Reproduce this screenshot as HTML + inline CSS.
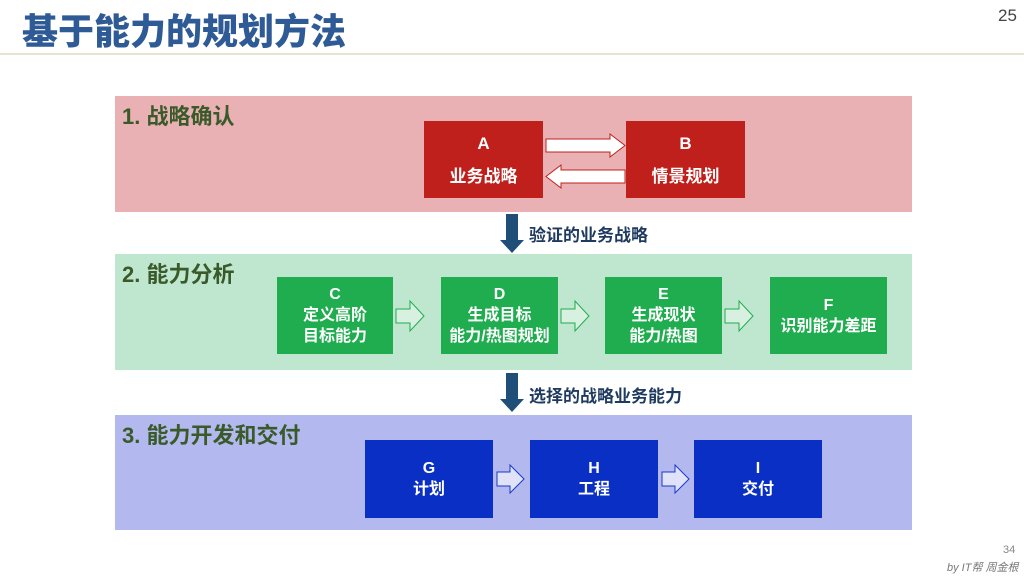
<!DOCTYPE html>
<html><head><meta charset="utf-8"><style>
*{margin:0;padding:0;box-sizing:border-box}
body{width:1024px;height:577px;background:#fff;position:relative;overflow:hidden;font-family:"Liberation Sans","Noto Sans CJK SC",sans-serif}
.a{position:absolute}
.band{position:absolute;left:115px;width:797px}
.bt{position:absolute;font-weight:bold;font-size:22px;color:#3a5a2a;white-space:nowrap}
.box{position:absolute;color:#fff;font-weight:bold;font-size:16px;line-height:21px;display:flex;flex-direction:column;justify-content:center;align-items:center;text-align:center;white-space:nowrap}
.lbl{position:absolute;font-weight:bold;font-size:17px;color:#1f3a5f;white-space:nowrap}
</style></head><body>
<div class="a" style="left:22px;top:3px;font-size:36px;font-weight:900;color:#2e5a96;white-space:nowrap">基于能力的规划方法</div>
<div class="a" style="left:998px;top:6px;font-size:17px;color:#444">25</div>
<div class="a" style="left:0;top:53px;width:1024px;height:2px;background:#e6e2d4"></div>

<div class="band" style="top:96px;height:116px;background:#e9b1b3"></div>
<div class="bt" style="left:122px;top:99px">1. 战略确认</div>
<div class="box" style="left:424px;top:121px;width:119px;height:77px;background:#c0201b;gap:12px;font-size:17px"><span>A</span><span>业务战略</span></div>
<div class="box" style="left:626px;top:121px;width:119px;height:77px;background:#c0201b;gap:12px;font-size:17px"><span>B</span><span>情景规划</span></div>

<div class="band" style="top:254px;height:116px;background:#bfe6cf"></div>
<div class="bt" style="left:122px;top:257px">2. 能力分析</div>
<div class="box" style="left:277px;top:277px;width:116px;height:77px;background:#1fad4f"><span>C</span><span>定义高阶</span><span>目标能力</span></div>
<div class="box" style="left:441px;top:277px;width:117px;height:77px;background:#1fad4f"><span>D</span><span>生成目标</span><span>能力/热图规划</span></div>
<div class="box" style="left:605px;top:277px;width:117px;height:77px;background:#1fad4f"><span>E</span><span>生成现状</span><span>能力/热图</span></div>
<div class="box" style="left:770px;top:277px;width:117px;height:77px;background:#1fad4f"><span>F</span><span>识别能力差距</span></div>

<div class="band" style="top:415px;height:115px;background:#b3b8ee"></div>
<div class="bt" style="left:122px;top:418px">3. 能力开发和交付</div>
<div class="box" style="left:365px;top:440px;width:128px;height:78px;background:#0a2fc4"><span>G</span><span>计划</span></div>
<div class="box" style="left:530px;top:440px;width:128px;height:78px;background:#0a2fc4"><span>H</span><span>工程</span></div>
<div class="box" style="left:694px;top:440px;width:128px;height:78px;background:#0a2fc4"><span>I</span><span>交付</span></div>

<svg class="a" style="left:0;top:0" width="1024" height="577">
<g fill="#fff" stroke="#c0201b" stroke-width="1">
<path d="M546,139 H610 V134 L625,145.5 L610,157 V152 H546 Z"/>
<path d="M625,170 H561 V165 L546,176.5 L561,188 V183 H625 Z"/>
</g>
<g fill="#d8f0df" stroke="#1fad4f" stroke-width="1">
<path d="M396,309 H410 V301 L424,316 L410,331 V323 H396 Z"/>
<path d="M561,309 H575 V301 L589,316 L575,331 V323 H561 Z"/>
<path d="M725,309 H739 V301 L753,316 L739,331 V323 H725 Z"/>
</g>
<g fill="#dfe2f8" stroke="#1a3ac8" stroke-width="1">
<path d="M497,472 H510 V465 L524,479 L510,493 V486 H497 Z"/>
<path d="M662,472 H675 V465 L689,479 L675,493 V486 H662 Z"/>
</g>
<g fill="#1f4e79">
<path d="M506,214 H518 V240 H524 L512,253 L500,240 H506 Z"/>
<path d="M506,373 H518 V399 H524 L512,412 L500,399 H506 Z"/>
</g>
</svg>
<div class="lbl" style="left:529px;top:221px">验证的业务战略</div>
<div class="lbl" style="left:529px;top:382px">选择的战略业务能力</div>

<div class="a" style="left:1003px;top:544px;font-size:11px;color:#888">34</div>
<div class="a" style="left:947px;top:559px;font-size:11px;color:#777;font-style:italic;white-space:nowrap">by IT帮 周金根</div>
</body></html>
